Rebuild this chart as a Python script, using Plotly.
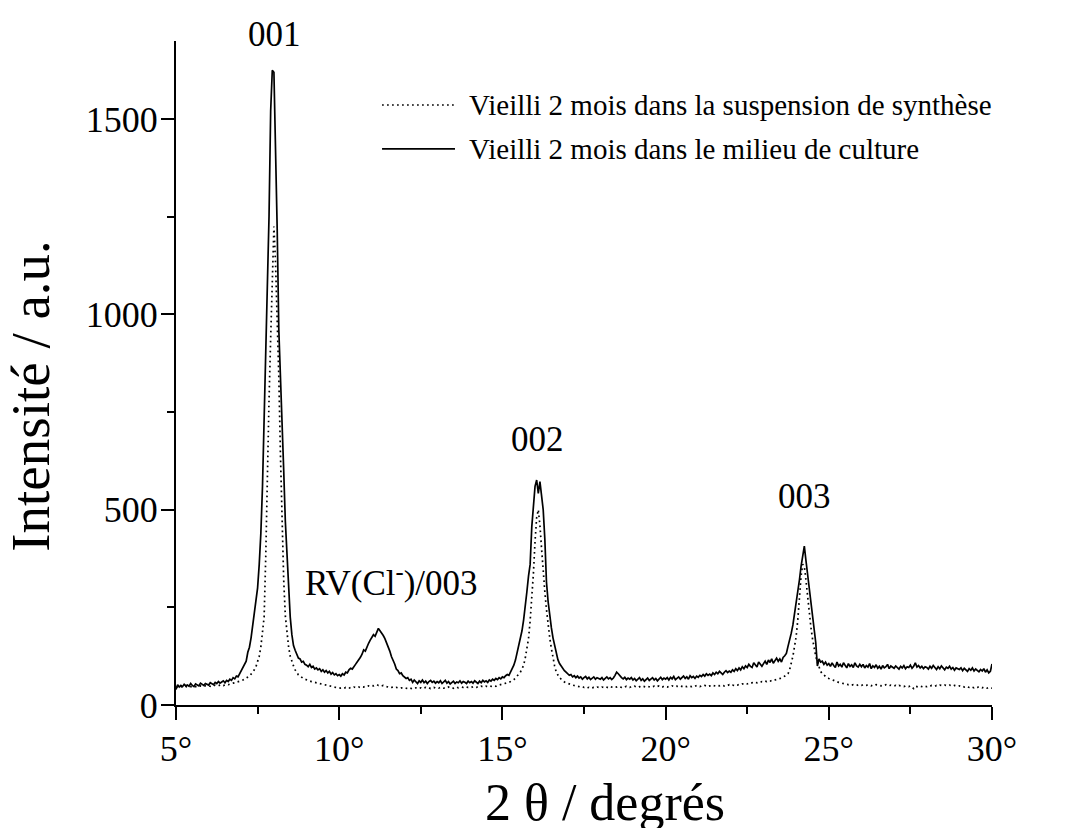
import numpy as np
import plotly.graph_objects as go

# 2-theta scan grid (degrees), step 0.05
two_theta = np.round(np.linspace(5.0, 30.0, 501), 2)

# Intensity, aged 2 months in the culture medium (solid line)
intensite_milieu = [
    40, 52, 46, 50, 47, 53, 49, 51, 48, 55, 50, 47, 54, 51, 49, 56, 52, 50, 55, 53,          # 5
    51, 57, 54, 52, 58, 55, 60, 56, 59, 62, 57, 63, 60, 66, 63, 70, 67, 74, 72, 80,          # 6
    84, 93, 100, 112, 135, 148, 172, 205, 235, 265, 300, 360, 440, 560, 730, 840, 1030, 1250, 1520, 1625,  # 7
    1620, 1450, 1220, 960, 820, 740, 600, 470, 380, 300, 225, 180, 152, 140, 130, 120, 118, 110, 112, 104,  # 8
    102, 98, 104, 96, 99, 92, 95, 90, 93, 86, 90, 84, 88, 82, 86, 79, 83, 77, 80, 75,          # 9
    78, 74, 80, 77, 84, 82, 90, 94, 92, 100, 104, 110, 115, 122, 130, 141, 138, 150, 158, 166,  # 10
    172, 180, 176, 188, 196, 190, 185, 178, 170, 160, 150, 138, 124, 115, 105, 92, 88, 80, 82, 75,  # 11
    72, 68, 70, 63, 66, 58, 64, 60, 55, 62, 58, 64, 57, 61, 55, 60, 63, 58, 61, 56,          # 12
    60, 57, 62, 55, 59, 63, 56, 60, 54, 58, 61, 55, 59, 57, 62, 56, 60, 58, 55, 61,          # 13
    57, 60, 56, 62, 58, 55, 61, 57, 63, 59, 62, 58, 64, 61, 66, 63, 68, 65, 70, 67,          # 14
    72, 70, 75, 78, 76, 84, 95, 102, 115, 135, 155, 168, 190, 218, 250, 290, 330, 360, 456, 520,  # 15
    560, 576, 542, 572, 535, 500, 425, 315, 265, 225, 198, 172, 150, 130, 116, 106, 99, 92, 88, 84,  # 16
    80, 76, 78, 72, 75, 70, 74, 69, 72, 66, 70, 73, 67, 71, 65, 69, 72, 66, 70, 68,          # 17
    66, 70, 64, 68, 72, 67, 70, 65, 69, 76, 84, 80, 74, 70, 67, 71, 65, 69, 66, 70,          # 18
    64, 68, 62, 66, 70, 63, 67, 61, 65, 69, 63, 67, 70, 64, 68, 62, 66, 71, 65, 69,          # 19
    66, 70, 64, 71, 67, 73, 65, 69, 72, 66, 70, 74, 68, 72, 66, 75, 70, 73, 68, 74,          # 20
    71, 76, 73, 78, 74, 80, 76, 79, 75, 82, 78, 84, 80, 86, 82, 78, 84, 88, 83, 87,          # 21
    84, 90, 86, 93, 88, 95, 90, 98, 93, 100, 96, 104, 99, 96, 108, 101, 97, 110, 103, 99,    # 22
    106, 112, 104, 115, 109, 118, 107, 114, 120, 112, 118, 110, 122, 126, 132, 150, 165, 184, 205, 232,  # 23
    260, 285, 320, 355, 385, 407, 370, 335, 303, 262, 228, 190, 160, 100, 118, 110, 112, 104, 110, 102,  # 24
    106, 99, 108, 101, 96, 110, 100, 104, 97, 108, 102, 95, 106, 99, 103, 96, 108, 100, 97, 104,  # 25
    98, 104, 95, 101, 97, 106, 93, 100, 96, 103, 94, 99, 92, 101, 95, 98, 104, 93, 100, 96,  # 26
    94, 100, 97, 92, 99, 95, 101, 93, 98, 96, 102, 94, 99, 108, 97, 101, 95, 99, 93, 98,     # 27
    96, 92, 99, 94, 101, 95, 91, 98, 93, 100, 96, 90, 97, 94, 99, 92, 96, 89, 95, 93,        # 28
    91, 95, 88, 94, 90, 86, 93, 89, 95, 87, 92, 88, 85, 91, 87, 93, 84, 90, 82, 86,          # 29
    105,                                                                                      # 30
]

# Intensity, aged 2 months in the synthesis suspension (dotted line)
intensite_synthese = [
    44, 46, 45, 47, 46, 45, 47, 46, 48, 47, 46, 48, 47, 46, 48, 49, 47, 48, 49, 48,          # 5
    49, 48, 50, 49, 51, 50, 49, 51, 52, 50, 52, 53, 52, 54, 55, 56, 57, 58, 60, 61,          # 6
    62, 64, 66, 68, 71, 74, 79, 84, 90, 98, 110, 125, 149, 180, 225, 380, 600, 780, 940, 1100,  # 7
    1225, 1130, 1010, 840, 640, 440, 320, 228, 180, 148, 125, 110, 100, 90, 82, 77, 74, 70, 68, 66,  # 8
    64, 63, 61, 60, 59, 58, 56, 55, 54, 53, 52, 51, 50, 49, 48, 47, 46, 46, 45, 44,          # 9
    44, 43, 44, 43, 45, 44, 43, 45, 44, 46, 45, 44, 46, 45, 47, 46, 48, 47, 49, 48,          # 10
    50, 49, 51, 52, 50, 51, 49, 50, 48, 47, 46, 47, 45, 46, 44, 45, 44, 43, 44, 43,          # 11
    44, 43, 42, 44, 43, 41, 43, 44, 42, 43, 44, 42, 43, 45, 43, 44, 42, 44, 45, 43,          # 12
    44, 43, 45, 44, 43, 45, 44, 46, 44, 45, 43, 45, 46, 44, 45, 46, 45, 47, 46, 45,          # 13
    46, 45, 47, 46, 45, 47, 46, 48, 47, 46, 48, 47, 49, 48, 47, 49, 48, 50, 51, 52,          # 14
    53, 54, 55, 57, 58, 60, 62, 65, 69, 74, 80, 84, 92, 102, 120, 145, 170, 215, 270, 337,   # 15
    420, 480, 500, 460, 400, 337, 290, 245, 205, 172, 145, 120, 100, 84, 76, 70, 66, 62, 59, 57,  # 16
    55, 54, 52, 51, 50, 49, 48, 47, 46, 47, 45, 46, 44, 45, 43, 44, 45, 44, 46, 45,          # 17
    44, 46, 45, 47, 46, 44, 47, 46, 45, 47, 46, 48, 46, 45, 47, 46, 48, 47, 45, 47,          # 18
    46, 48, 47, 45, 47, 46, 48, 47, 46, 48, 47, 45, 47, 48, 46, 47, 49, 47, 46, 48,          # 19
    47, 46, 48, 47, 49, 47, 46, 48, 47, 49, 48, 46, 48, 47, 49, 48, 47, 49, 48, 50,          # 20
    48, 47, 49, 48, 50, 48, 47, 49, 48, 50, 49, 48, 50, 49, 51, 50, 49, 51, 50, 52,          # 21
    50, 51, 50, 52, 51, 53, 52, 54, 53, 55, 54, 56, 55, 57, 56, 58, 57, 59, 58, 60,          # 22
    59, 61, 60, 62, 61, 63, 62, 64, 65, 66, 67, 69, 71, 74, 77, 80, 90, 105, 125, 150,       # 23
    175, 218, 280, 330, 360, 355, 320, 275, 232, 200, 170, 145, 125, 110, 96, 86, 80, 76, 73, 70,  # 24
    68, 66, 65, 63, 61, 60, 58, 57, 56, 55, 54, 53, 52, 53, 51, 52, 51, 50, 52, 51,          # 25
    50, 52, 51, 50, 52, 51, 49, 51, 50, 52, 51, 50, 49, 51, 50, 52, 50, 49, 51, 50,          # 26
    49, 50, 48, 50, 49, 48, 47, 49, 48, 47, 49, 44, 42, 48, 47, 46, 48, 47, 46, 48,          # 27
    47, 49, 48, 50, 49, 48, 50, 49, 51, 50, 49, 51, 50, 49, 51, 50, 48, 50, 49, 48,          # 28
    49, 47, 48, 46, 48, 47, 45, 47, 46, 44, 46, 45, 47, 45, 44, 46, 44, 43, 45, 44,          # 29
    43,                                                                                       # 30
]

series_names = [
    "Vieilli 2 mois dans la suspension de synthèse",
    "Vieilli 2 mois dans le milieu de culture",
]

# peak labels: text, 2-theta position, vertical position (paper fraction of plot height)
peak_labels = ["001", "RV(Cl<sup>-</sup>)/003", "002", "003"]
peak_label_x = [8.03, 11.61, 16.09, 24.27]
peak_label_y = [1.0105, 0.1871, 0.3991, 0.3133]

x_ticks = [5, 10, 15, 20, 25, 30]
y_ticks = [0, 500, 1000, 1500]

FONT = "Liberation Serif"

fig = go.Figure()
fig.add_trace(go.Scatter(
    x=two_theta, y=intensite_synthese, mode="lines", name=series_names[0],
    line=dict(color="black", width=1.7, dash="1.7px,3.3px"), showlegend=False,
))
fig.add_trace(go.Scatter(
    x=two_theta, y=intensite_milieu, mode="lines", name=series_names[1],
    line=dict(color="black", width=1.7), showlegend=False,
))

annotations = []
for txt, xv, yv in zip(peak_labels, peak_label_x, peak_label_y):
    annotations.append(dict(
        x=xv, y=yv, xref="x", yref="paper", text=txt, showarrow=False,
        xanchor="center", yanchor="middle",
        font=dict(family=FONT, size=35, color="black"),
    ))

# manual legend
legend_rows_y = [0.9036, 0.8374]
legend_dash = ["1.7px,3.3px", "solid"]
shapes = []
for name, ly, dash in zip(series_names, legend_rows_y, legend_dash):
    shapes.append(dict(type="line", xref="paper", yref="paper",
                       x0=0.2525, x1=0.3419, y0=ly, y1=ly,
                       line=dict(color="black", width=1.7, dash=dash)))
    annotations.append(dict(
        x=0.3566, y=ly, xref="paper", yref="paper", text=name, showarrow=False,
        xanchor="left", yanchor="middle",
        font=dict(family=FONT, size=29, color="black"),
    ))

# axis titles
annotations.append(dict(
    x=-0.1780, y=0.4654, xref="paper", yref="paper", text="Intensité / a.u.",
    showarrow=False, textangle=-90, xanchor="center", yanchor="middle",
    font=dict(family=FONT, size=55, color="black"),
))
annotations.append(dict(
    x=0.5263, y=-0.1470, xref="paper", yref="paper", text="2 θ / degrés",
    showarrow=False, xanchor="center", yanchor="middle",
    font=dict(family=FONT, size=52, color="black"),
))

# page body has an 8px margin, so the figure is 8px smaller and margins compensate
fig.update_layout(
    width=1076, height=820,
    margin=dict(l=168, r=92, t=33, b=123),
    paper_bgcolor="white", plot_bgcolor="white",
    showlegend=False,
    annotations=annotations,
    shapes=shapes,
    font=dict(family=FONT, color="black"),
)
fig.update_xaxes(
    range=[5, 30], tickvals=x_ticks, ticktext=[f"{v}°" for v in x_ticks],
    showline=True, linecolor="black", linewidth=2,
    ticks="outside", ticklen=13, tickwidth=2, tickcolor="black",
    minor=dict(dtick=2.5, tick0=5, ticks="outside", ticklen=7, tickwidth=2, tickcolor="black"),
    showgrid=False, zeroline=False,
    tickfont=dict(family=FONT, size=36, color="black"),
    ticklabelstandoff=-2,
)
fig.update_yaxes(
    range=[0, 1700], tickvals=y_ticks,
    showline=True, linecolor="black", linewidth=2,
    ticks="outside", ticklen=13, tickwidth=2, tickcolor="black",
    minor=dict(dtick=250, tick0=0, ticks="outside", ticklen=7, tickwidth=2, tickcolor="black"),
    showgrid=False, zeroline=False,
    tickfont=dict(family=FONT, size=36, color="black"),
    ticklabelstandoff=-4,
)

fig.write_html("out.html")
